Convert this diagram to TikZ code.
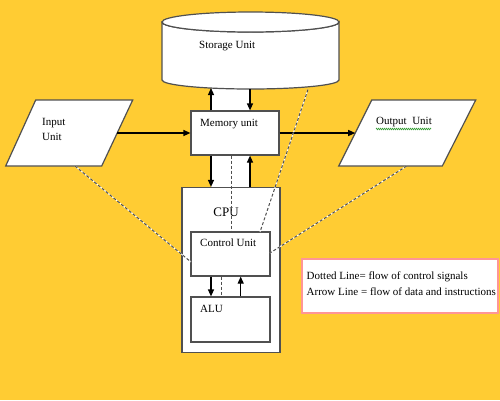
\documentclass[tikz,border=0pt]{standalone}
\usepackage{fontspec}
\setmainfont{Liberation Serif}
\usetikzlibrary{arrows.meta,decorations.pathmorphing}
\definecolor{bgyellow}{RGB}{255,204,51}
\definecolor{boxline}{RGB}{80,80,80}
\definecolor{legendpink}{RGB}{255,150,150}
\definecolor{spellgreen}{RGB}{60,160,60}
\tikzset{
  unitbox/.style={draw=boxline,fill=white,line width=1.2bp},
  flow/.style={draw=black,line width=1.2bp,-{Triangle[length=7bp,width=6bp]}},
  ctrlwhite/.style={draw=white,line width=1bp},
  ctrl/.style={draw=boxline,line width=1bp,dash pattern=on 3bp off 2bp},
  lbl/.style={font=\fontsize{11bp}{13bp}\selectfont,inner sep=0pt,anchor=west},
}
\begin{document}
\begin{tikzpicture}[x=1bp,y=-1bp]
\fill[bgyellow] (0,0) rectangle (500,400);
\useasboundingbox (0,0) rectangle (500,400);

% white bands between paired arrows
\fill[white] (211,80) rectangle (250,112);
\fill[white] (211,154) rectangle (250,188);

% storage cylinder
\filldraw[unitbox] (162,22) -- (162,80) arc[start angle=180,end angle=360,x radius=88.5,y radius=-9] -- (339,22) arc[start angle=0,end angle=180,x radius=88.5,y radius=10] -- cycle;
\draw[unitbox] (250.5,22) ellipse[x radius=88.5,y radius=10];
\node[lbl] (storagetxt) at (199,46) {Storage Unit};
\coordinate (stL) at (211,88);
\coordinate (stR) at (250,89);
\coordinate (stD) at (308,89.5);

% memory
\node[unitbox,minimum width=88bp,minimum height=44bp,inner sep=0pt] (mem) at (235,133) {};
\node[lbl] (memtxt) at (200,124) {Memory unit};

% cpu
\node[unitbox,minimum width=98bp,minimum height=165bp,inner sep=0pt] (cpu) at (231,270) {};
\node[font=\fontsize{13bp}{15bp}\selectfont,inner sep=0pt] (cputxt) at (226,212) {CPU};

% control unit
\node[unitbox,minimum width=79bp,minimum height=44bp,inner sep=0pt] (cu) at (230.5,254) {};
\node[lbl] (cutxt) at (200,243) {Control Unit};

% ALU
\node[unitbox,minimum width=79bp,minimum height=45bp,inner sep=0pt] (alu) at (230.5,319.5) {};
\node[lbl] (alutxt) at (200,309) {ALU};

% input parallelogram
\filldraw[unitbox] (35.7,100) coordinate (inTL) -- (132.7,100) coordinate (inTR) -- (101.7,166) coordinate (inBR) -- (5.7,166) coordinate (inBL) -- cycle;
\node[lbl] (intxt1) at (42,123) {Input};
\node[lbl] (intxt2) at (42,137) {Unit};
\coordinate (inR) at (117.2,133);
\coordinate (inB) at (75,166);

% output parallelogram
\filldraw[unitbox] (371.7,100) coordinate (outTL) -- (475.7,100) coordinate (outTR) -- (442.3,166) coordinate (outBR) -- (338.7,166) coordinate (outBL) -- cycle;
\node[lbl] (outtxt) at (376,122) {Output\ \ Unit};
\draw[spellgreen,line width=0.6bp,decorate,decoration={zigzag,amplitude=0.8bp,segment length=2bp}] (376,129) -- (431,129);
\coordinate (outL) at (355.2,133);
\coordinate (outB) at (406.7,166);

% data arrows
\draw[flow] (mem.north -| stL) -- (stL);
\draw[flow] (stR) -- (mem.north -| stR);
\draw[flow] (inR) -- (mem.west |- inR);
\draw[flow] (mem.east |- outL) -- (outL);
\draw[flow] (mem.south -| stL) -- (cpu.north -| stL);
\draw[flow] (cpu.north -| stR) -- (mem.south -| stR);
\draw[flow] (cu.south -| stL) -- (alu.north -| stL);
\coordinate (cuup) at (240.7,300);
\draw[flow] (alu.north -| cuup) -- (cu.south -| cuup);

% control (dotted) lines
\coordinate (cuL) at (191,262);
\coordinate (cuR) at (270,253);
\coordinate (cuT) at (260,232);
\coordinate (memd) at (231,133);
\coordinate (alud) at (221,300);
\foreach \a/\b in {inB/cuL,outB/cuR,stD/cuT}{
  \draw[ctrlwhite] (\a) -- (\b);
  \draw[ctrl] (\a) -- (\b);
}
\draw[ctrl] (mem.south -| memd) -- (cu.north -| memd);
\draw[ctrl] (cu.south -| alud) -- (alu.north -| alud);

% legend
\node[draw=legendpink,fill=white,line width=2bp,minimum width=196bp,minimum height=54bp,inner sep=0pt] (legend) at (400,286) {};
\node[lbl] (leg1) at (306.5,277) {Dotted Line= flow\ of control signals};
\node[lbl] (leg2) at (306.5,292) {Arrow Line = flow\ of data and instructions};
\end{tikzpicture}
\end{document}
